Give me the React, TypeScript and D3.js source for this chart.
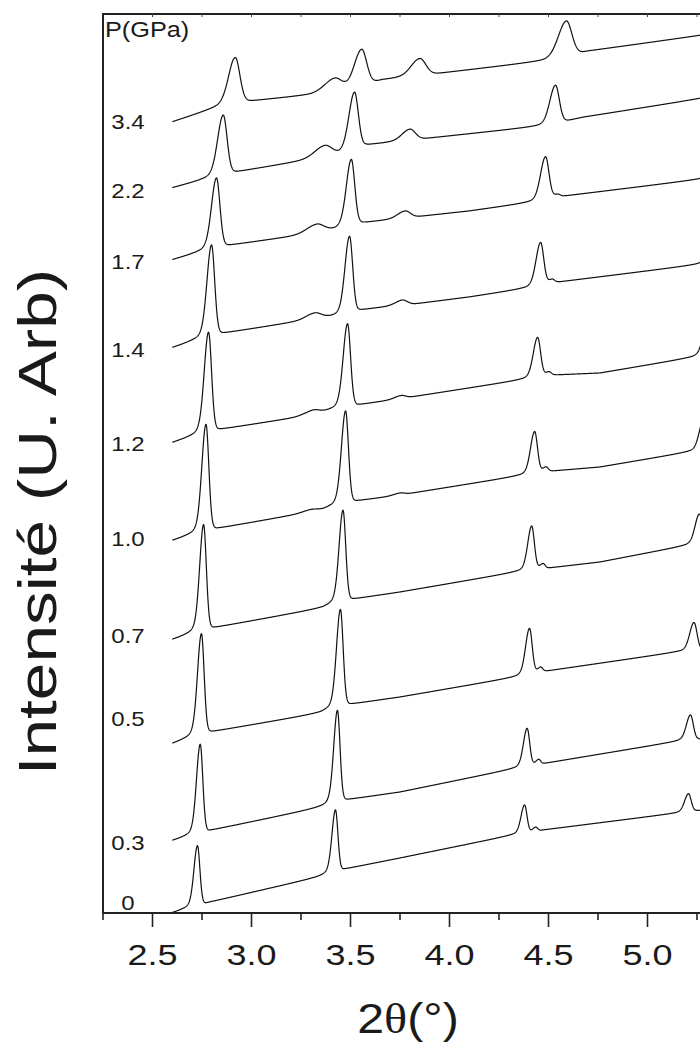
import React from 'react';
import * as d3 from 'd3';

// Pressure of each pattern (GPa), bottom to top
const pressures = ["0", "0.3", "0.5", "0.7", "1.0", "1.2", "1.4", "1.7", "2.2", "3.4"];
// Vertical offset of each pattern (arbitrary intensity units)
const offsets = [0, 72, 169, 273, 372, 470, 565, 653, 725, 791];
// Level (same units) at which each pressure label sits
const labelLevels = [10, 70, 194, 277, 374, 469, 563, 651, 722, 791];
// Base half-width (deg 2θ) of the reflections in each pattern
const peakWidths = [0.017, 0.018, 0.019, 0.019, 0.020, 0.021, 0.022, 0.024, 0.027, 0.032];

// Background points [2θ, intensity] of each pattern
const baselines: number[][][] = [
  [[2.6, 0], [2.79, 11], [3.34, 36], [3.47, 44], [3.75, 55], [4.32, 78], [4.47, 83], [5.15, 100], [5.32, 104]],
  [[2.6, 0], [2.80, 11], [3.36, 34], [3.47, 41], [3.75, 49], [4.32, 72], [4.49, 78], [5.16, 100], [5.32, 103]],
  [[2.6, 0], [2.79, 12], [3.35, 31], [3.47, 39], [3.75, 47], [4.25, 64], [4.34, 67], [4.49, 73], [5.15, 92], [5.32, 95]],
  [[2.6, 0], [2.80, 12], [3.36, 32], [3.48, 40], [3.75, 48], [4.34, 68], [4.50, 72], [4.76, 78], [5.21, 95], [5.32, 97]],
  [[2.6, 0], [2.81, 12], [3.36, 31], [3.49, 39], [3.75, 46], [4.35, 65], [4.52, 70], [4.76, 74], [5.21, 89], [5.32, 91]],
  [[2.6, 0], [2.82, 13], [3.28, 27], [3.50, 37], [3.74, 44], [4.36, 63], [4.53, 68], [4.76, 70], [5.24, 86], [5.32, 88]],
  [[2.6, 0], [2.83, 14], [3.19, 25], [3.45, 32], [3.55, 38], [3.71, 42], [3.82, 44], [4.10, 51], [4.40, 60], [4.55, 66], [5.32, 85]],
  [[2.6, 0], [2.86, 14], [3.19, 23], [3.42, 30], [3.55, 37], [3.73, 41], [3.82, 43], [4.10, 49], [4.43, 58], [4.58, 64], [5.32, 82]],
  [[2.6, 0], [2.92, 16], [3.29, 28], [3.44, 33], [3.58, 43], [3.90, 50], [4.47, 62], [4.68, 71], [5.32, 91]],
  [[2.6, 0], [2.90, 19], [3.30, 27], [3.49, 33], [3.66, 42], [3.96, 49], [4.48, 61], [4.70, 71], [5.32, 88]],
];

// Reflections of each pattern: [2θ, height, relative width]
const peaks: number[][][] = [
  [[2.727, 60, 1], [3.424, 62, 1], [4.379, 28, 1], [4.435, 4, 0.8], [5.207, 18, 1.1]],
  [[2.741, 89, 1], [3.434, 92, 1], [4.392, 38, 1], [4.45, 5, 0.8], [5.217, 25, 1.1]],
  [[2.747, 101, 1], [3.449, 97, 1], [4.404, 46, 1], [4.46, 5, 0.8], [5.235, 28, 1.1]],
  [[2.758, 106, 1], [3.462, 91, 1], [4.415, 44, 1], [4.472, 5, 0.8], [5.262, 30, 1.1]],
  [[2.770, 107, 1], [3.30, 2, 2], [3.475, 92, 1], [3.75, 2, 1.5], [4.43, 42, 1], [4.487, 5, 0.8], [5.285, 32, 1.1]],
  [[2.783, 100, 1], [3.31, 4, 2], [3.485, 83, 1], [3.755, 3, 1.5], [4.445, 40, 1], [4.502, 4, 0.8], [5.305, 32, 1.1]],
  [[2.798, 91, 1], [3.32, 6, 2], [3.495, 77, 1], [3.763, 5, 1.5], [4.46, 43, 1], [4.518, 4, 0.8], [5.335, 32, 1.1]],
  [[2.823, 70, 1], [3.33, 8, 2], [3.504, 66, 1], [3.776, 7, 1.5], [4.485, 43, 1], [4.545, 3, 0.8], [5.37, 32, 1.1]],
  [[2.857, 60, 1], [3.37, 11, 1.8], [3.520, 57, 1], [3.80, 11, 1.4], [4.535, 38, 1], [5.42, 30, 1.1]],
  [[2.918, 45, 1], [3.42, 12, 1.5], [3.556, 36, 1.1], [3.85, 17, 1.3], [4.59, 35, 1.2], [5.5, 30, 1]],
];

const majorTicks = [2.5, 3.0, 3.5, 4.0, 4.5, 5.0, 5.5];
const minorTicks = [2.25, 2.75, 3.25, 3.75, 4.25, 4.75, 5.25];
const topTicks = [2.5, 2.75, 3.0, 3.25, 3.5, 3.75, 4.0, 4.25, 4.5, 4.75, 5.0, 5.25];

const xStart = 2.6;
const xEnd = 5.33;
const xStep = 0.0015;

function peakValue(t: number, p: number[], w: number): number {
  const [pos, amp, rel] = p;
  const d = t - pos;
  if (d < 0) {
    const wl = w * rel * 1.2;
    const g = Math.exp(-Math.LN2 * (d / wl) ** 2);
    const l = 1 / (1 + (d / (wl * 1.6)) ** 2);
    return amp * (0.85 * g + 0.15 * l);
  }
  const wr = w * rel * 0.85;
  const g = Math.exp(-Math.LN2 * (d / wr) ** 2);
  const l = 1 / (1 + (d / wr) ** 2);
  return amp * (0.94 * g + 0.06 * l);
}

function buildPattern(i: number): [number, number][] {
  const bx = baselines[i].map((b) => b[0]);
  const by = baselines[i].map((b) => b[1]);
  const bg = d3.scaleLinear().domain(bx).range(by).clamp(true);
  const pts: [number, number][] = [];
  const n = Math.round((xEnd - xStart) / xStep);
  for (let k = 0; k <= n; k++) {
    const t = xStart + k * xStep;
    let v = offsets[i] + bg(t);
    for (const p of peaks[i]) v += peakValue(t, p, peakWidths[i]);
    pts.push([t, v]);
  }
  return pts;
}

export default function App() {
  const W = 700;
  const H = 1043;
  const left = 103;
  const top = 14;
  const bottom = 913;
  const x = d3.scaleLinear().domain([2.25, 5.5]).range([left, left + 3.25 * 198]);
  const y = d3.scaleLinear().domain([0, 899]).range([bottom, top]);
  const line = d3
    .line<[number, number]>()
    .x((d) => x(d[0]))
    .y((d) => y(d[1]));
  const fmt = d3.format('.1f');
  const font = "'Liberation Sans', Arial, Helvetica, sans-serif";

  return (
    <svg
      width={W}
      height={H}
      viewBox={`0 0 ${W} ${H}`}
      style={{ position: 'absolute', left: 0, top: 0, background: '#fff' }}
      fontFamily={font}
    >
      <defs>
        <clipPath id="plotClip">
          <rect x={left} y={top} width={W - left} height={bottom - top} />
        </clipPath>
      </defs>
      <rect x={0} y={0} width={W} height={H} fill="#fff" />

      {/* patterns */}
      <g clipPath="url(#plotClip)" fill="none" stroke="#111" strokeWidth={1.2} strokeLinejoin="round">
        {pressures.map((p, i) => (
          <path key={p} d={line(buildPattern(i)) || ''} />
        ))}
      </g>

      {/* frame */}
      <g stroke="#222" strokeWidth={2} fill="none">
        <line x1={left} y1={top} x2={W} y2={top} />
        <line x1={left} y1={top - 1} x2={left} y2={bottom + 1} />
        <line x1={left - 1} y1={bottom} x2={W} y2={bottom} />
      </g>
      <g stroke="#222" strokeWidth={1.6}>
        {majorTicks.map((t) => (
          <line key={'M' + t} x1={x(t)} x2={x(t)} y1={bottom} y2={bottom + 14} />
        ))}
        {minorTicks.map((t) => (
          <line key={'m' + t} x1={x(t)} x2={x(t)} y1={bottom} y2={bottom + 7} />
        ))}
      </g>
      <g stroke="#444" strokeWidth={1}>
        {topTicks.map((t) => (
          <line key={'t' + t} x1={x(t)} x2={x(t)} y1={top} y2={top + 3} />
        ))}
      </g>

      {/* tick labels */}
      <g fill="#1a1a1a" fontSize={30} textAnchor="middle">
        {majorTicks
          .filter((t) => x(t) < W)
          .map((t) => (
            <text key={'l' + t} transform={`translate(${x(t)},965) scale(1.2,1)`}>
              {fmt(t)}
            </text>
          ))}
      </g>

      {/* pressure labels */}
      <text transform={`translate(105,37) scale(1.15,1)`} fontSize={22} fill="#1a1a1a">
        P(GPa)
      </text>
      <g fill="#1a1a1a" fontSize={20} textAnchor="middle">
        {pressures.map((p, i) => (
          <text key={'p' + p} transform={`translate(128,${y(labelLevels[i]) + 7}) scale(1.2,1)`}>
            {p}
          </text>
        ))}
      </g>

      {/* axis titles */}
      <text transform={`translate(408,1033) scale(1.15,1)`} fontSize={42} textAnchor="middle" fill="#1a1a1a">
        2<tspan fontFamily="'Liberation Serif', 'Times New Roman', serif">θ</tspan>(°)
      </text>
      <text
        transform={`translate(56,522) rotate(-90) scale(1.25,1)`}
        fontSize={54}
        textAnchor="middle"
        fill="#1a1a1a"
      >
        Intensité (U. Arb)
      </text>
    </svg>
  );
}
